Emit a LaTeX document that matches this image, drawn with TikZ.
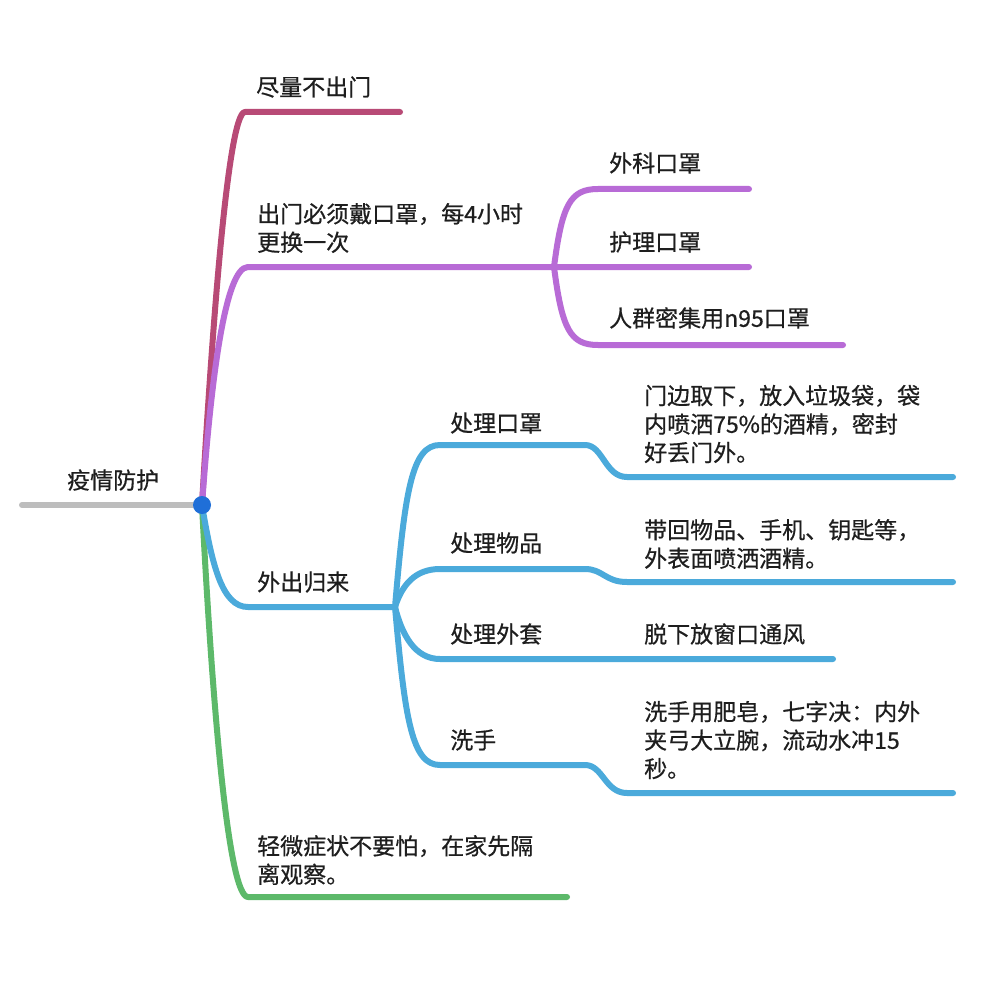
\documentclass[tikz,border=0pt]{standalone}
\usepackage{fontspec}
\setmainfont{Noto Sans CJK SC}[FakeBold=0.6]
\definecolor{crim}{HTML}{B84A76}
\definecolor{purp}{HTML}{B86BD6}
\definecolor{sky}{HTML}{4BAADB}
\definecolor{grn}{HTML}{5DB96A}
\definecolor{gry}{HTML}{BDBDBD}
\definecolor{dotb}{HTML}{1F6FD8}
\definecolor{ink}{HTML}{1E1E1E}
\begin{document}
\begin{tikzpicture}[x=1pt,y=-1pt,
  br/.style={line width=6pt, line cap=round, line join=round},
  lbl/.style={anchor=west, inner sep=0pt, align=left, font=\fontsize{23}{28.5}\selectfont, text=ink}]
\useasboundingbox (0,0) rectangle (1000,1000);
\fill[white] (0,0) rectangle (1000,1000);
% coordinates
\coordinate (o) at (202,505);
\coordinate (rs) at (22,505);
\coordinate (c1) at (245,112);  \coordinate (c1e) at (400,112);
\coordinate (p1) at (248,267);  \coordinate (j1) at (554,267);
\coordinate (pa) at (598,189);  \coordinate (pae) at (749,189);
\coordinate (pbe) at (749,267);
\coordinate (pc) at (598,345);  \coordinate (pce) at (843,345);
\coordinate (b1) at (248,607);  \coordinate (j2) at (395,607);
\coordinate (g1) at (248,897);  \coordinate (g1e) at (567,897);
\coordinate (ba) at (440,445);  \coordinate (ba2) at (585,445); \coordinate (ba3) at (627,477); \coordinate (bae) at (953,477);
\coordinate (bb) at (440,569);  \coordinate (bb2) at (585,569); \coordinate (bb3) at (627,582); \coordinate (bbe) at (953,582);
\coordinate (bc) at (440,659);  \coordinate (bce) at (833,659);
\coordinate (bd) at (440,765);  \coordinate (bd2) at (585,765); \coordinate (bd3) at (627,793); \coordinate (bde) at (953,793);
% root line
\draw[br, gry] (rs) -- (o);
% crimson
\draw[br, crim] (o) .. controls (212,330) and (228,112) .. (c1) -- (c1e);
% purple
\draw[br, purp] (o) .. controls (211,380) and (225,267) .. (p1) -- (j1) -- (pbe);
\draw[br, purp] (j1) .. controls (562,205) and (570,189) .. (pa) -- (pae);
\draw[br, purp] (j1) .. controls (562,329) and (570,345) .. (pc) -- (pce);
% green
\draw[br, grn] (o) .. controls (212,700) and (228,897) .. (g1) -- (g1e);
% blue
\draw[br, sky] (o) .. controls (212,565) and (222,607) .. (b1) -- (j2);
\draw[br, sky] (j2) .. controls (405,490) and (412,445) .. (ba) -- (ba2) .. controls (603,445) and (605,477) .. (ba3) -- (bae);
\draw[br, sky] (j2) .. controls (402,585) and (415,569) .. (bb) -- (bb2) .. controls (603,569) and (605,582) .. (bb3) -- (bbe);
\draw[br, sky] (j2) .. controls (402,635) and (415,659) .. (bc) -- (bce);
\draw[br, sky] (j2) .. controls (405,720) and (412,765) .. (bd) -- (bd2) .. controls (603,765) and (605,793) .. (bd3) -- (bde);
% dot
\node[circle, fill=dotb, minimum size=18pt, inner sep=0pt] (dot) at (o) {};
% labels
\node[lbl] (t0) at (67,480) {疫情防护};
\node[lbl] (t1) at (256,87) {尽量不出门};
\node[lbl] (t2) at (257,228) {出门必须戴口罩，每4小时\\更换一次};
\node[lbl] (t2a) at (609,163) {外科口罩};
\node[lbl] (t2b) at (609,242) {护理口罩};
\node[lbl] (t2c) at (609,318) {人群密集用n95口罩};
\node[lbl] (t3) at (257,582) {外出归来};
\node[lbl] (t3a) at (450,423) {处理口罩};
\node[lbl] (t3b) at (450,543) {处理物品};
\node[lbl] (t3c) at (450,634) {处理外套};
\node[lbl] (t3d) at (450,740) {洗手};
\node[lbl] (d3a) at (644,424) {门边取下，放入垃圾袋，袋\\内喷洒75\%的酒精，密封\\好丢门外。};
\node[lbl] (d3b) at (644,544) {带回物品、手机、钥匙等，\\外表面喷洒酒精。};
\node[lbl] (d3c) at (644,634) {脱下放窗口通风};
\node[lbl] (d3d) at (644,740) {洗手用肥皂，七字决：内外\\夹弓大立腕，流动水冲15\\秒。};
\node[lbl] (t4) at (257,860) {轻微症状不要怕，在家先隔\\离观察。};
\end{tikzpicture}
\end{document}
